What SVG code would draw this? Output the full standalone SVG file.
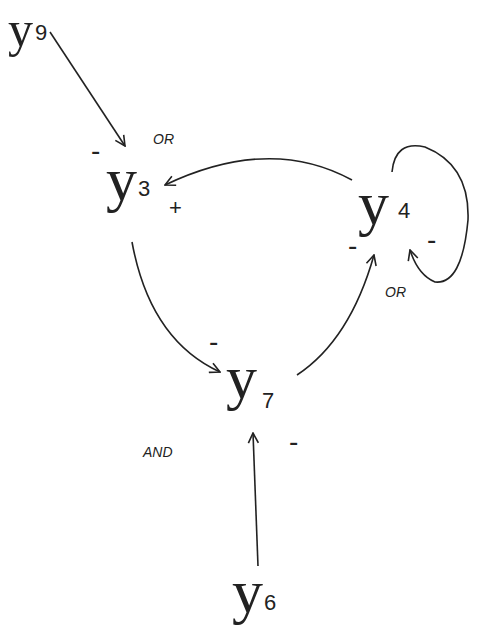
<svg xmlns="http://www.w3.org/2000/svg" width="483" height="638" viewBox="0 0 483 638">
<defs>
<marker id="ah" viewBox="0 0 12 12" refX="11" refY="6" markerWidth="12" markerHeight="12" markerUnits="userSpaceOnUse" orient="auto">
<path d="M1,1 L11,6 L1,11" fill="none" stroke="#222" stroke-width="1.6"/>
</marker>
<style>
.e{fill:none;stroke:#222;stroke-width:1.6;marker-end:url(#ah)}
.y{font-family:"Liberation Serif",serif;font-size:62px;fill:#222}
.d{font-family:"Liberation Sans",sans-serif;font-size:22px;fill:#222}
.l{font-family:"Liberation Sans",sans-serif;font-size:14px;fill:#222;font-style:italic}
.s{font-family:"Liberation Sans",sans-serif;font-size:28px;fill:#222}
</style>
</defs>
<rect width="483" height="638" fill="#fff"/>
<g id="connectors">
<path class="e" d="M50,32 L125,146"/>
<path class="e" d="M352,180 Q270,135 165,185"/>
<path class="e" d="M392,172 Q395,140 425,147 Q470,165 468,220 Q462,285 435,282 Q418,275 410,250"/>
<path class="e" d="M297,375 Q350,340 374,255"/>
<path class="e" d="M132,242 Q150,340 220,372"/>
<path class="e" d="M258,566 L253,433"/>
</g>
<g id="y9"><text class="y" x="8" y="46" style="font-size:50px">y</text><text class="d" x="35" y="40">9</text></g>
<g id="y3"><text class="y" x="106" y="200">y</text><text class="d" x="138" y="196">3</text>
<text class="s" x="91" y="160">-</text><text class="s" x="169" y="215" style="font-size:22px">+</text><text class="l" x="153" y="144">OR</text></g>
<g id="y4"><text class="y" x="358" y="224">y</text><text class="d" x="398" y="218">4</text>
<text class="s" x="348" y="255">-</text><text class="s" x="427" y="249">-</text><text class="l" x="385" y="297">OR</text></g>
<g id="y7"><text class="y" x="226" y="398">y</text><text class="d" x="262" y="408">7</text>
<text class="s" x="209" y="351">-</text><text class="s" x="289" y="451">-</text><text class="l" x="143" y="457">AND</text></g>
<g id="y6"><text class="y" x="232" y="612">y</text><text class="d" x="264" y="610">6</text></g>
</svg>
